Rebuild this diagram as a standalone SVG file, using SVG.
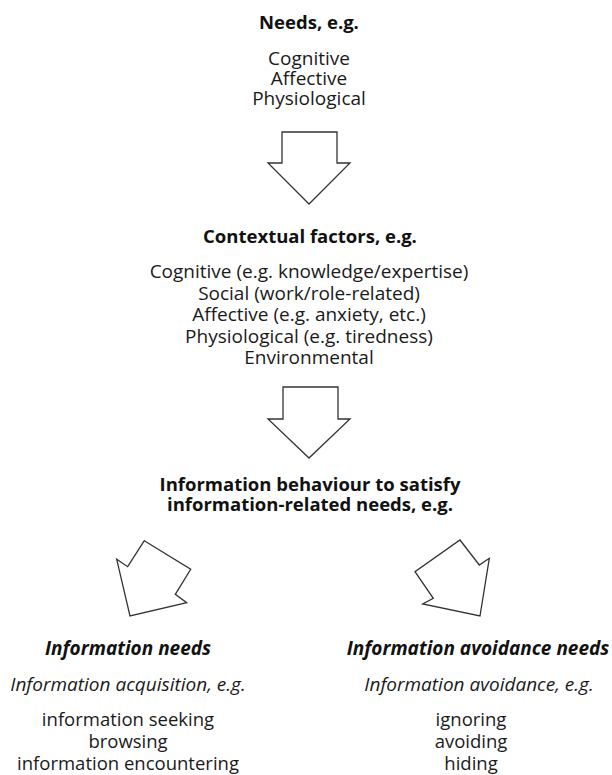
<svg xmlns="http://www.w3.org/2000/svg" width="612" height="775" viewBox="0 0 612 775">
<style>
text{font-family:"Open Sans","Noto Sans","DejaVu Sans",sans-serif;fill:#1a1a1a;text-anchor:middle}
.h{font-weight:bold;font-size:18.5px;fill:#111}
.b{font-size:19px}
.l{font-size:18.5px}
.hi{font-weight:bold;font-style:italic;font-size:19px;fill:#111}
.i{font-style:italic;font-size:19px}
.arr{fill:#fff;stroke:#333;stroke-width:1.3;stroke-linejoin:miter}
</style>
<rect width="612" height="775" fill="#fff"/>
<g id="needs">
<text class="h" x="309" y="29">Needs, e.g.</text>
<text class="b" x="309" y="65">Cognitive<tspan x="309" dy="20">Affective</tspan><tspan x="309" dy="20">Physiological</tspan></text>
</g>
<g id="context">
<text class="h" x="310" y="243">Contextual factors, e.g.</text>
<text class="b" x="309" y="278">Cognitive (e.g. knowledge/expertise)<tspan x="309" dy="21.5">Social (work/role-related)</tspan><tspan x="309" dy="21.5">Affective (e.g. anxiety, etc.)</tspan><tspan x="309" dy="21.5">Physiological (e.g. tiredness)</tspan><tspan x="309" dy="21.5">Environmental</tspan></text>
</g>
<g id="behaviour">
<text class="h" x="310" y="491">Information behaviour to satisfy<tspan x="310" dy="20">information-related needs, e.g.</tspan></text>
</g>
<g id="info-needs">
<text class="hi" x="128" y="655">Information needs</text>
<text class="i" x="128" y="691">Information acquisition, e.g.</text>
<text class="l" x="128" y="726">information seeking<tspan x="128" dy="22">browsing</tspan><tspan x="128" dy="22">information encountering</tspan></text>
</g>
<g id="avoid-needs">
<text class="hi" x="478" y="655">Information avoidance needs</text>
<text class="i" x="479" y="691">Information avoidance, e.g.</text>
<text class="l" x="471" y="726">ignoring<tspan x="471" dy="22">avoiding</tspan><tspan x="471" dy="22">hiding</tspan></text>
</g>
<g id="connectors">
<polygon class="arr" points="282,132 337,132 337,163 350,163 309,204 268,163 282,163"/>
<polygon class="arr" points="283,387 338,387 338,419 350,419 309,458 268,419 283,419"/>
<polygon class="arr" points="144.3,540.7 190.7,569.3 175.3,594.3 186.7,602.7 130,616 116.7,559.3 127.7,566.7"/>
<polygon class="arr" points="460,540 479.3,565 489.3,558.3 480,616 422.7,604 433.3,598.3 415,571.7"/>
</g>
</svg>
